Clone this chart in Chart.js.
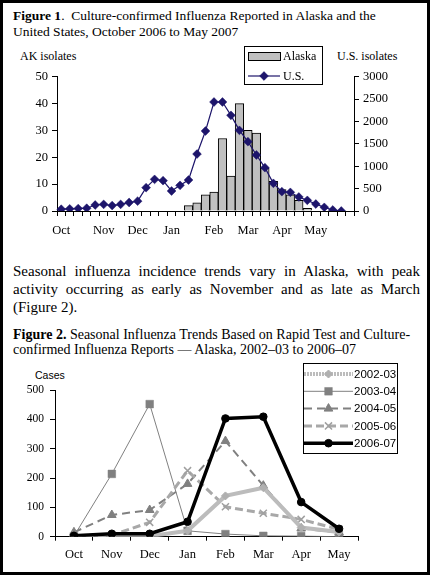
<!DOCTYPE html>
<html><head><meta charset="utf-8">
<script src="https://cdn.jsdelivr.net/npm/chart.js@4.4.0/dist/chart.umd.min.js"></script>
<style>
html,body{margin:0;padding:0;background:#000;width:430px;height:575px;overflow:hidden;}
#page{position:absolute;left:3px;top:3px;width:424px;height:569px;background:#fff;}
.t{position:absolute;white-space:nowrap;color:#000;font-family:'Liberation Serif','Times New Roman',serif;}
.cv{position:absolute;left:0;width:430px;}
.just{text-align:justify;text-align-last:justify;width:407px;}
</style></head>
<body>
<div id="page"></div>
<div class="t" style="left:13px;top:8px;font-size:13.5px;line-height:16px;"><b>Figure 1</b>.&nbsp; Culture-confirmed Influenza Reported in Alaska and the<br>United States, October 2006 to May 2007</div>
<div class="t" style="left:20px;top:49px;font-size:12px;line-height:14px;">AK isolates</div>
<div class="t" style="left:337px;top:49px;font-size:12px;line-height:14px;">U.S. isolates</div>
<div class="cv" style="top:40px;height:205px;"><canvas id="c1"></canvas></div>

<div class="t just" style="left:13px;top:262px;font-size:15px;line-height:18px;">Seasonal influenza incidence trends vary in Alaska, with peak</div>
<div class="t just" style="left:13px;top:280px;font-size:15px;line-height:18px;">activity occurring as early as November and as late as March</div>
<div class="t" style="left:13px;top:298px;font-size:15px;line-height:18px;">(Figure 2).</div>

<div class="t" style="left:13px;top:327px;font-size:14px;line-height:15px;"><b>Figure 2.</b> Seasonal Influenza Trends Based on Rapid Test and Culture-<br>confirmed Influenza Reports — Alaska, 2002–03 to 2006–07</div>
<div class="t" style="left:35px;top:369px;font-size:10.5px;line-height:12px;font-family:'Liberation Sans Narrow','Arial Narrow','Liberation Sans',sans-serif;">Cases</div>
<div class="cv" style="top:362px;height:210px;"><canvas id="c2"></canvas></div>

<script>
// ---------- Figure 1 data ----------
const weekLabels = ['Oct','','','','','Nov','','','','Dec','','','','Jan','','','','','Feb','','','','Mar','','','','Apr','','','','May','','','',''];
const alaskaIsolates = [0,0,0,0,0,0,0,0,0,0,0,0,0,0,0,2,3,6,7,27,13,40,30,29,16,11,8,6,4,1,0,0,0,0,null];
const usIsolates = [40,48,55,62,134,148,122,148,190,220,521,707,678,447,573,692,1273,1787,2435,2435,2137,1802,1549,1251,968,618,432,417,313,238,156,82,22,0,null];
const akTicks = [0,10,20,30,40,50];
const usTicks = [0,500,1000,1500,2000,2500,3000];

// ---------- Figure 2 data ----------
const months = ['Oct','Nov','Dec','Jan','Feb','Mar','Apr','May'];
const s2002_03 = [0,2,2,20,139,167,31,16];
const s2003_04 = [2,214,452,20,9,3,2,0];
const s2004_05 = [15,74,91,180,326,174,28,14];
const s2005_06 = [2,5,49,225,102,80,59,25];
const s2006_07 = [3,10,10,51,403,409,118,27];
const casesTicks = [0,100,200,300,400,500];

const SERIF = "'Liberation Serif','Times New Roman',serif";
const NARROW = "'Liberation Sans Narrow','Arial Narrow','Liberation Sans',sans-serif";
const NAVY = '#1d156b';
const plain = v => String(v);

const legendBox = {
  id: 'legendBox',
  afterDraw(chart, args, o) {
    const ctx = chart.ctx;
    ctx.save();
    ctx.fillStyle = '#fff';
    ctx.fillRect(o.x, o.y, o.w, o.h);
    ctx.strokeStyle = '#000';
    ctx.lineWidth = 1;
    ctx.setLineDash([]);
    ctx.strokeRect(o.x + 0.5, o.y + 0.5, o.w, o.h);
    chart.data.datasets.forEach((ds, i) => {
      const y = o.rows[i];
      ctx.save();
      if (ds.type === 'bar') {
        ctx.fillStyle = ds.backgroundColor;
        ctx.fillRect(o.x0, y - o.barH / 2, o.x1 - o.x0, o.barH);
        ctx.strokeStyle = ds.borderColor;
        ctx.lineWidth = 1;
        ctx.strokeRect(o.x0 + 0.5, y - o.barH / 2 + 0.5, o.x1 - o.x0, o.barH);
      } else {
        ctx.strokeStyle = ds.borderColor;
        ctx.lineWidth = ds.borderWidth;
        ctx.setLineDash(ds.legendDash || ds.borderDash || []);
        ctx.beginPath();
        ctx.moveTo(o.x0, y);
        ctx.lineTo(o.x1, y);
        ctx.stroke();
        ctx.setLineDash([]);
        ctx.fillStyle = ds.pointBackgroundColor;
        ctx.strokeStyle = ds.pointBorderColor;
        ctx.lineWidth = ds.pointBorderWidth;
        Chart.helpers.drawPoint(ctx, {pointStyle: ds.pointStyle, radius: ds.pointRadius, rotation: 0, borderWidth: ds.pointBorderWidth}, (o.x0 + o.x1) / 2, y);
      }
      ctx.restore();
      ctx.fillStyle = '#000';
      ctx.font = o.font;
      ctx.textBaseline = 'middle';
      ctx.textAlign = 'left';
      ctx.fillText(ds.label, o.tx, y + 0.5);
    });
    ctx.restore();
  }
};

const tickFont1 = {family: SERIF, size: 12.5};

new Chart(document.getElementById('c1'), {
  type: 'bar',
  data: {
    labels: weekLabels,
    datasets: [
      {type: 'bar', label: 'Alaska', data: alaskaIsolates, yAxisID: 'y', backgroundColor: '#c0c0c0', borderColor: '#000', borderWidth: 1, barPercentage: 1, categoryPercentage: 1, order: 2},
      {type: 'line', label: 'U.S.', data: usIsolates, yAxisID: 'y1', borderColor: NAVY, borderWidth: 1.2, pointStyle: 'rectRot', pointRadius: 4.4, pointBackgroundColor: NAVY, pointBorderColor: NAVY, pointBorderWidth: 0.5, tension: 0, order: 1}
    ]
  },
  options: {
    responsive: true, maintainAspectRatio: false, animation: false,
    layout: {padding: {top: 36.7, right: 0, left: 0, bottom: 0}},
    plugins: {legend: {display: false}, tooltip: {enabled: false},
      legendBox: {x: 244, y: 6, w: 78, h: 38, rows: [16, 36], x0: 248, x1: 280, barH: 8, tx: 283, font: "12px " + SERIF}},
    scales: {
      x: {
        offset: true,
        grid: {display: true, drawOnChartArea: false, drawTicks: true, tickLength: 5, color: '#000', offset: true},
        border: {display: true, color: '#000', width: 1},
        ticks: {autoSkip: false, maxRotation: 0, padding: 7, color: '#000', font: tickFont1},
        afterFit: s => { s.height = 34; }
      },
      y: {
        position: 'left', min: 0, max: 50,
        afterBuildTicks: s => { s.ticks = akTicks.map(v => ({value: v})); },
        grid: {drawOnChartArea: false, tickLength: 5, color: '#000'},
        border: {display: true, color: '#000', width: 1},
        ticks: {padding: 4, color: '#000', font: tickFont1, callback: plain},
        afterFit: s => { s.width = 57; }
      },
      y1: {
        position: 'right', min: 0, max: 3000,
        afterBuildTicks: s => { s.ticks = usTicks.map(v => ({value: v})); },
        grid: {drawOnChartArea: false, tickLength: 5, color: '#000'},
        border: {display: true, color: '#000', width: 1},
        ticks: {padding: 4, color: '#000', font: tickFont1, callback: plain},
        afterFit: s => { s.width = 76; }
      }
    }
  },
  plugins: [legendBox]
});

const tickFont2 = {family: SERIF, size: 12.5};

new Chart(document.getElementById('c2'), {
  type: 'line',
  data: {
    labels: months,
    datasets: [
      {label: '2002-03', data: s2002_03, borderColor: '#bcbcbc', borderWidth: 4, legendDash: [2, 1], pointStyle: 'rectRot', pointRadius: 4, pointBackgroundColor: '#b0b0b0', pointBorderColor: '#b0b0b0', pointBorderWidth: 1, order: 2},
      {label: '2003-04', data: s2003_04, borderColor: '#808080', borderWidth: 1, pointStyle: 'rect', pointRadius: 5.4, pointBackgroundColor: '#808080', pointBorderColor: '#808080', pointBorderWidth: 0.5, order: 5},
      {label: '2004-05', data: s2004_05, borderColor: '#808080', borderWidth: 2, borderDash: [8, 5], pointStyle: 'triangle', pointRadius: 5, pointBackgroundColor: '#808080', pointBorderColor: '#808080', pointBorderWidth: 1, order: 4},
      {label: '2005-06', data: s2005_06, borderColor: '#a8a8a8', borderWidth: 3, borderDash: [8, 4], pointStyle: 'crossRot', pointRadius: 5, pointBackgroundColor: '#a0a0a0', pointBorderColor: '#a0a0a0', pointBorderWidth: 1.5, order: 3},
      {label: '2006-07', data: s2006_07, borderColor: '#000', borderWidth: 3.5, pointStyle: 'circle', pointRadius: 3.8, pointBackgroundColor: '#000', pointBorderColor: '#000', pointBorderWidth: 1, order: 1}
    ]
  },
  options: {
    responsive: true, maintainAspectRatio: false, animation: false,
    layout: {padding: {top: 28, right: 72, left: 0, bottom: 0}},
    elements: {line: {tension: 0}},
    plugins: {legend: {display: false}, tooltip: {enabled: false},
      legendBox: {x: 303, y: 1, w: 94, h: 90, rows: [12, 29.3, 46.6, 63.9, 81.2], x0: 304, x1: 353, barH: 8, tx: 354, font: "11.5px " + NARROW}},
    scales: {
      x: {
        offset: true,
        grid: {display: true, drawOnChartArea: false, drawTicks: true, tickLength: 4, color: '#000', offset: true},
        border: {display: true, color: '#000', width: 1},
        ticks: {autoSkip: false, maxRotation: 0, padding: 6.8, color: '#000', font: tickFont2},
        afterFit: s => { s.height = 35.3; }
      },
      y: {
        min: 0, max: 500,
        afterBuildTicks: s => { s.ticks = casesTicks.map(v => ({value: v})); },
        grid: {drawOnChartArea: false, tickLength: 5, color: '#000'},
        border: {display: true, color: '#000', width: 1},
        ticks: {padding: 6, color: '#000', font: {family: SERIF, size: 11.5}, callback: plain},
        afterFit: s => { s.width = 55; }
      }
    }
  },
  plugins: [legendBox]
});
</script>
</body></html>
